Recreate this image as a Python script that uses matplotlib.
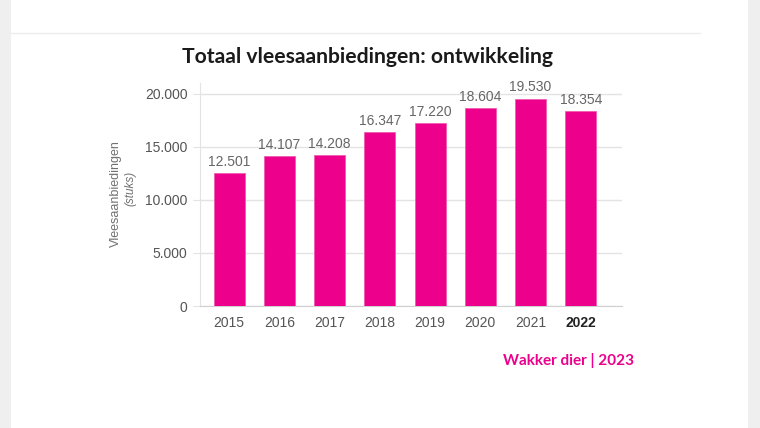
import matplotlib
matplotlib.use("Agg")
import matplotlib.pyplot as plt
from matplotlib.patches import Rectangle
from matplotlib.lines import Line2D

years = ["2015", "2016", "2017", "2018", "2019", "2020", "2021", "2022"]
values = [12501, 14107, 14208, 16347, 17220, 18604, 19530, 18354]
value_labels = ["12.501", "14.107", "14.208", "16.347", "17.220", "18.604", "19.530", "18.354"]
yticks = [0, 5000, 10000, 15000, 20000]
ytick_labels = ["0", "5.000", "10.000", "15.000", "20.000"]

title = "Totaal vleesaanbiedingen: ontwikkeling"
ylabel = "Vleesaanbiedingen"
ylabel_unit = "(stuks)"
footer = "Wakker dier | 2023"

PINK = "#EC008C"
FONT = "Liberation Sans"

W, H = 760, 428
fig = plt.figure(figsize=(W / 100, H / 100), dpi=100)
fig.patch.set_facecolor("white")

# page frame decorations
fig.add_artist(Rectangle((0, 0), 11 / W, 1, transform=fig.transFigure, color="#efefef", lw=0))
fig.add_artist(Rectangle((748 / W, 0), 12 / W, 1, transform=fig.transFigure, color="#efefef", lw=0))
fig.add_artist(Line2D([11 / W, 700 / W], [1 - 33 / H, 1 - 33 / H], transform=fig.transFigure,
                      color="#ececec", lw=1))

ax = fig.add_axes([200 / W, 1 - 306 / H, (622 - 200) / W, (306 - 83) / H])
x = list(range(len(years)))
bars = ax.bar(x, values, width=0.62, color=PINK, edgecolor="#f25ab0", linewidth=0.6, zorder=3)
ax.set_xlim(-0.58, 7.82)
ax.set_ylim(0, 21000)

ax.set_yticks(yticks)
ax.set_yticklabels(ytick_labels, fontsize=10, color="#555555", family=FONT)
ax.set_xticks(x)
ax.set_xticklabels(years, fontsize=10, color="#555555", family=FONT)
for lbl in ax.get_xticklabels():
    if lbl.get_text() == "2022":
        lbl.set_fontweight("bold")
        lbl.set_color("#222222")

ax.grid(axis="y", color="#e3e3e3", lw=1, zorder=0)
for s in ["top", "right"]:
    ax.spines[s].set_visible(False)
ax.spines["left"].set_color("#e3e3e3")
ax.spines["bottom"].set_color("#d0d0d0")
ax.tick_params(axis="y", length=5, color="#e3e3e3", pad=4)
ax.tick_params(axis="x", length=0, pad=7)

for xi, v, lab in zip(x, values, value_labels):
    ax.annotate(lab, (xi, v), xytext=(0, 3), textcoords="offset points",
                ha="center", va="bottom", fontsize=10, color="#666666", family=FONT)

fig.text(116 / W, 1 - 194 / H, ylabel, rotation=90, ha="center", va="center",
         fontsize=9, color="#707070", family=FONT)
fig.text(130 / W, 1 - 188 / H, ylabel_unit, rotation=90, ha="center", va="center",
         fontsize=8.5, color="#707070", family=FONT, style="italic")

fig.text(367 / W, 1 - 57 / H, title, ha="center", va="center", fontsize=15.2,
         fontweight="bold", color="#1a1a1a", family="Lato")
fig.text(503 / W, 1 - 361 / H, footer, ha="left", va="center", fontsize=11,
         fontweight="bold", color=PINK, family="Lato")

fig.savefig("out.png", dpi=100)
